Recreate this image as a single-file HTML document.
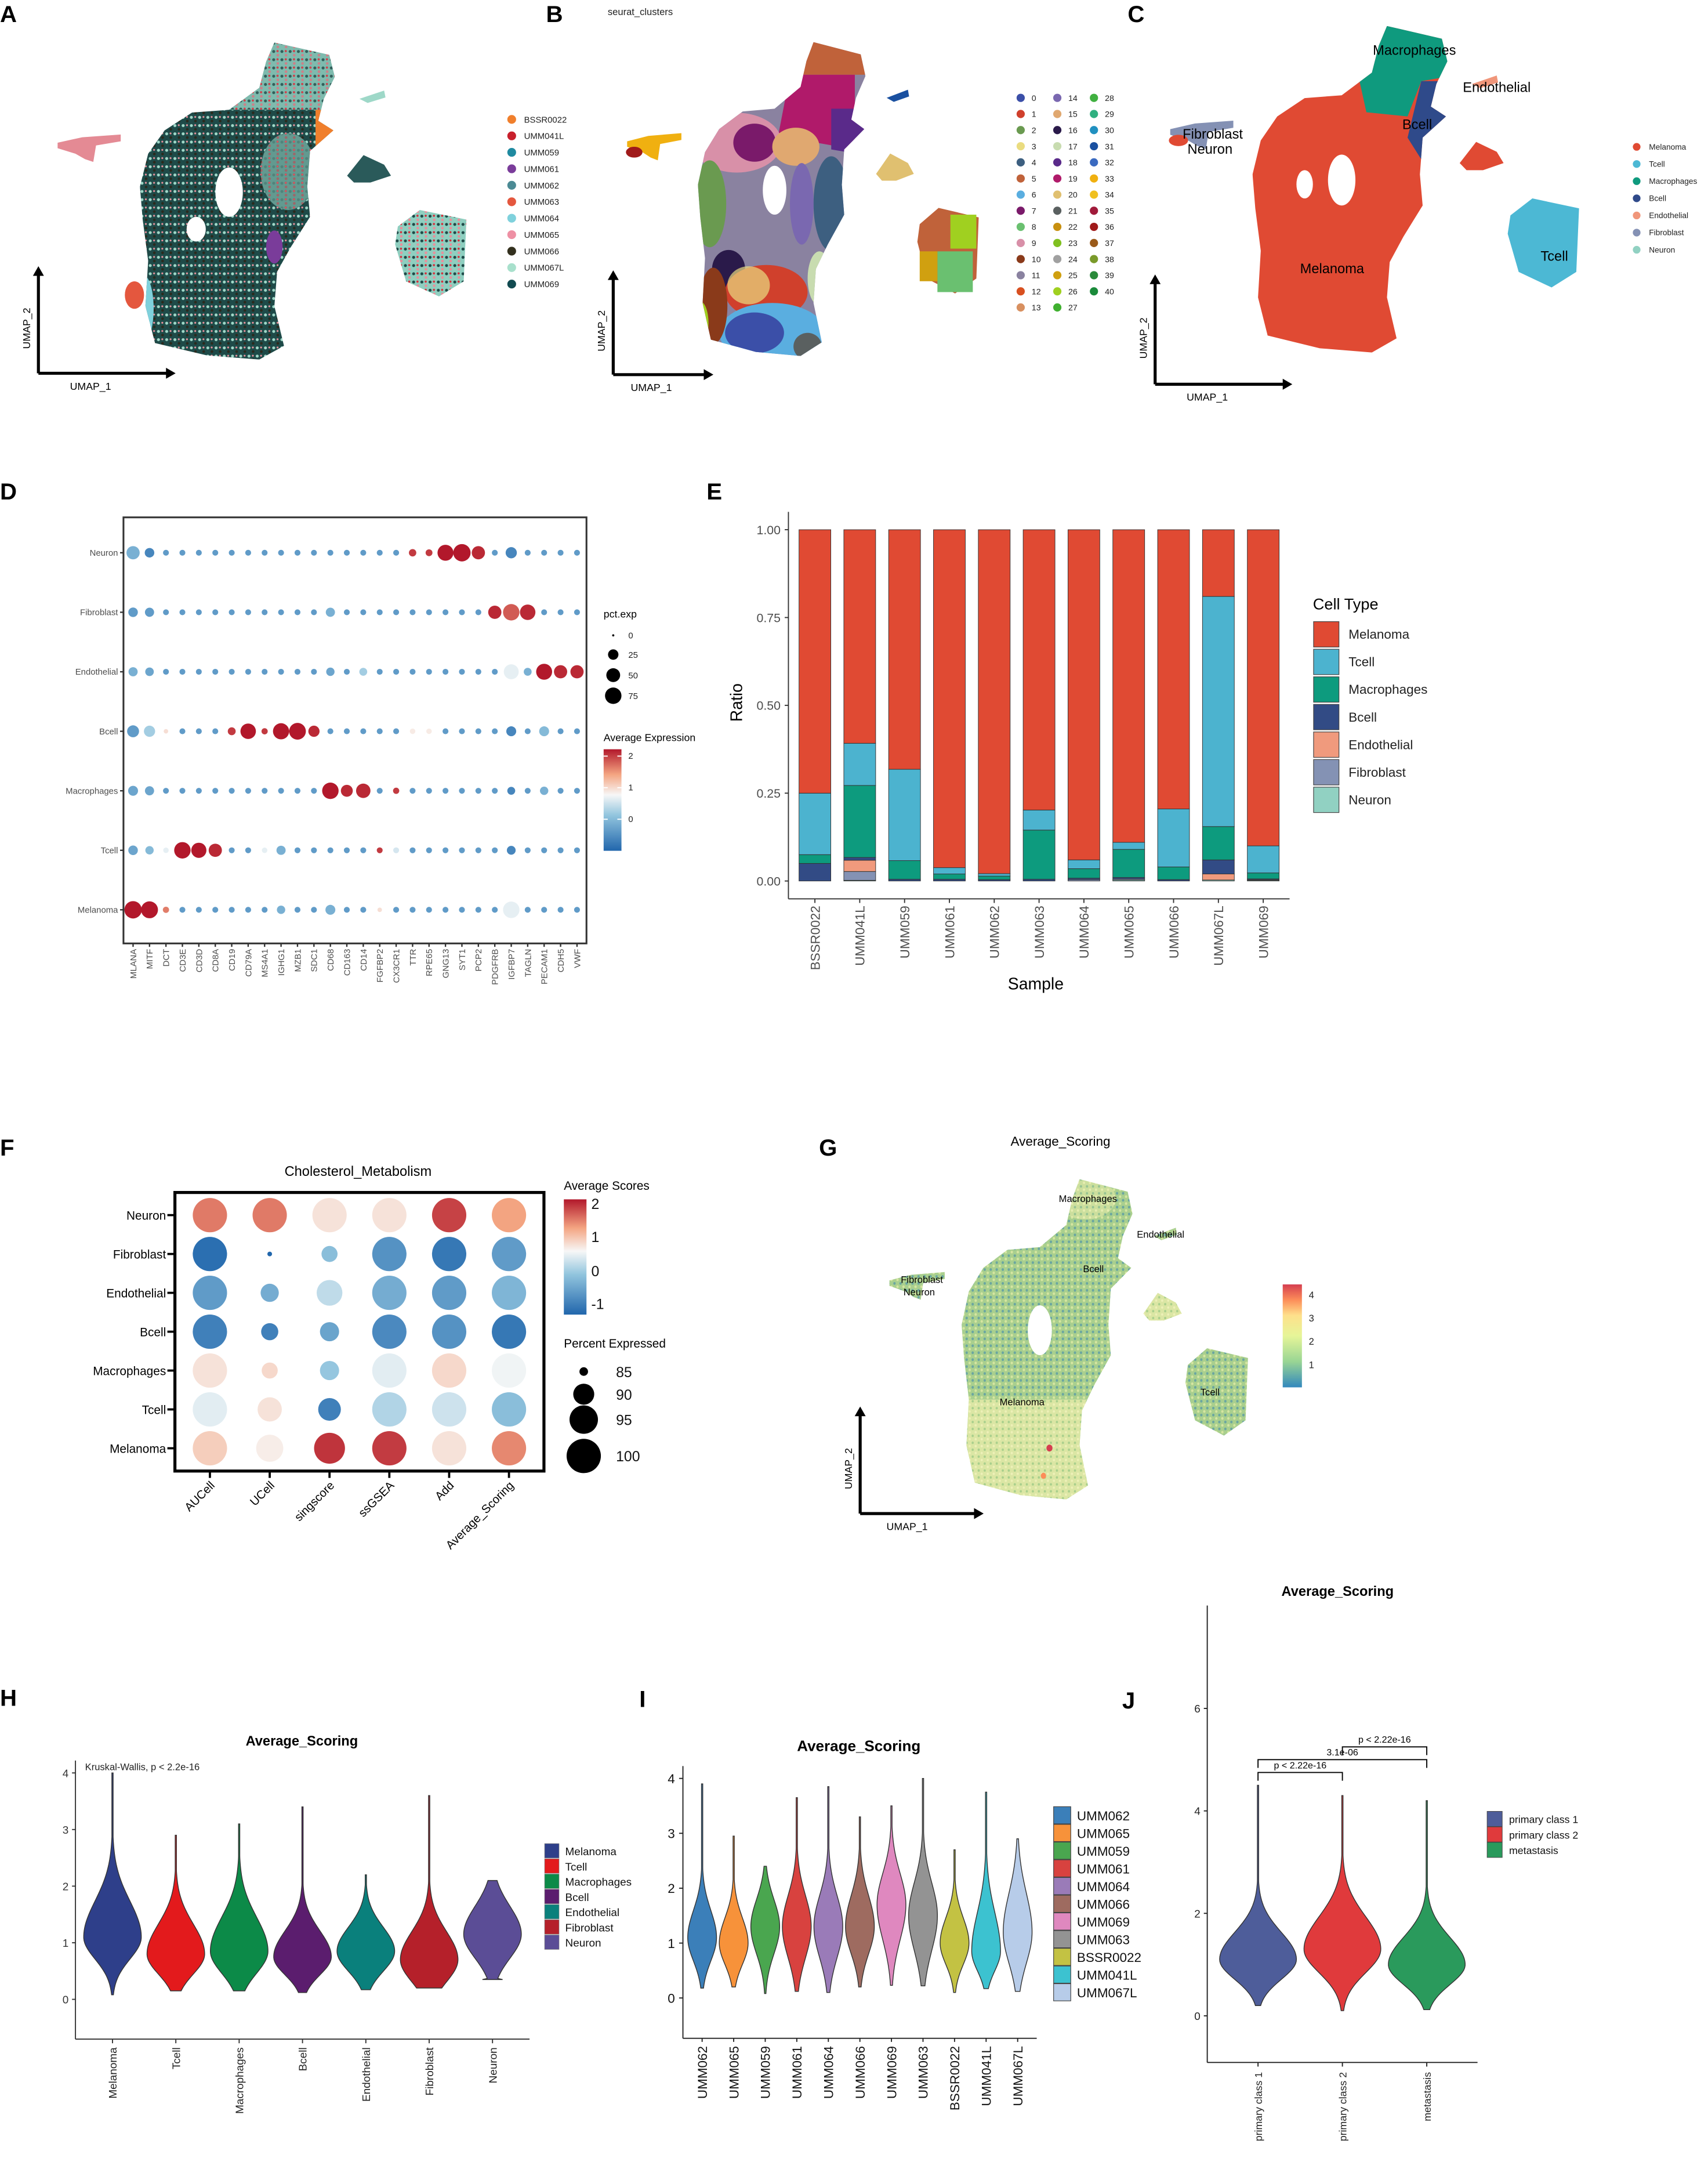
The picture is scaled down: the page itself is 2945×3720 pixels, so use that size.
<!DOCTYPE html>
<html><head><meta charset="utf-8"><title>Figure</title>
<style>
html,body{margin:0;padding:0;background:#fff;}
svg{display:block;font-family:"Liberation Sans",Arial,sans-serif;}
</style></head>
<body>
<svg id="fig" width="2945" height="3720" viewBox="0 0 1245 1572.6" xmlns="http://www.w3.org/2000/svg">
<defs>
  <path id="umapBody" d="M200,31 L240,40 L244,56 L236,72 L232,88 L243,95 L226,110 L224,136 L226,158 L212,180 L202,198 L200,223 L207,252 L189,262 L151,259 L113,250 L106,223 L108,190 L104,160 L102,136 L108,112 L120,95 L140,82 L167,80 L189,64 L194,45 Z"/>
  <path id="umapLeft" d="M42,104 L60,100 L88,98 L88,103 L70,106 L68,118 L62,116 L55,112 L42,108 Z"/>
  <path id="umapRight" d="M290,165 L306,153 L340,160 L338,205 L320,216 L296,205 L288,178 Z"/>
  <path id="umapMid" d="M253,128 L265,113 L280,120 L285,128 L270,133 L258,133 Z"/>
  <path id="umapTiny" d="M262,72 L280,66 L281,71 L268,75 Z"/>
  <clipPath id="clipBody"><use href="#umapBody"/></clipPath>
  <pattern id="patA" width="6" height="6" patternUnits="userSpaceOnUse">
    <rect width="6" height="6" fill="#1e4a48"/><circle cx="1.5" cy="1.5" r="1.1" fill="#9ed8c8"/><circle cx="4.5" cy="4.2" r="1" fill="#2b2a1e"/><circle cx="4.3" cy="1.2" r="0.7" fill="#e8909c"/>
  </pattern>
  <pattern id="patATop" width="6" height="6" patternUnits="userSpaceOnUse">
    <rect width="6" height="6" fill="#8fcfc0"/><circle cx="1.5" cy="1.5" r="1.1" fill="#1e4a48"/><circle cx="4.5" cy="4.2" r="1" fill="#e8909c"/><circle cx="4.3" cy="1.2" r="0.8" fill="#d6303c"/>
  </pattern>
  <pattern id="patG" width="5" height="5" patternUnits="userSpaceOnUse">
    <rect width="5" height="5" fill="#a9cf8e"/><circle cx="1.2" cy="1.2" r="1" fill="#6aa6a0"/><circle cx="3.7" cy="3.6" r="1" fill="#d6e6a0"/>
  </pattern>
  <pattern id="patGlow" width="5" height="5" patternUnits="userSpaceOnUse">
    <rect width="5" height="5" fill="#dbe6a4"/><circle cx="1.2" cy="1.2" r="0.9" fill="#a8cf8c"/><circle cx="3.7" cy="3.6" r="0.9" fill="#eef0b8"/>
  </pattern>
  <linearGradient id="gradD" x1="0" y1="1" x2="0" y2="0">
    <stop offset="0" stop-color="#2166ac"/><stop offset="0.35" stop-color="#92c5de"/><stop offset="0.55" stop-color="#f7f7f7"/><stop offset="0.75" stop-color="#f4a582"/><stop offset="1" stop-color="#b2182b"/>
  </linearGradient>
  <linearGradient id="gradG" x1="0" y1="1" x2="0" y2="0">
    <stop offset="0" stop-color="#3288bd"/><stop offset="0.25" stop-color="#99d594"/><stop offset="0.5" stop-color="#e6f598"/><stop offset="0.7" stop-color="#fee08b"/><stop offset="0.85" stop-color="#fc8d59"/><stop offset="1" stop-color="#d53e4f"/>
  </linearGradient>
</defs>
</svg>
<script>
const NS='http://www.w3.org/2000/svg';
const svg=document.getElementById('fig');
function mk(tag,a,p){const e=document.createElementNS(NS,tag);for(const k in a)e.setAttribute(k,a[k]);(p||svg).appendChild(e);return e;}
function tx(x,y,s,size,extra,p){const e=mk('text',Object.assign({x:x,y:y,'font-size':size,fill:'#000'},extra||{}),p);e.textContent=s;return e;}

/* ---------- DATA ---------- */
const sampleNamesA=['BSSR0022','UMM041L','UMM059','UMM061','UMM062','UMM063','UMM064','UMM065','UMM066','UMM067L','UMM069'];
const sampleColorsA=['#f07f2c','#c8202c','#1f8aa0','#7a3c9a','#4b8a94','#e4573e','#7fd1dc','#ee90a4','#33301e','#a8e0cc','#114a50'];
const clusterColors=['#3b4fa8','#d0402c','#6a9a50','#eadc80','#3d5f80','#c0623a','#5aaee0','#7a1a6a','#6ac070','#d890a8','#8a3a1a','#8a82a0','#d85020','#d89060','#7a68b0','#e0a870','#2a1a4a','#c8dcb0','#5a2a8a','#b01a6a','#e0c070','#5a6060','#c89010','#80c020','#a0a0a0','#d0a010','#a0d020','#40b030','#40b040','#30b080','#2090c0','#1a50a0','#3a6ac0','#f0b010','#f0c020','#a01a3a','#a01a1a','#9a5a1a','#7a9a2a','#2a8a3a','#1a8a3a'];
const cellTypes=['Melanoma','Tcell','Macrophages','Bcell','Endothelial','Fibroblast','Neuron'];
const cellColorsC=['#e04a33','#4cb8d4','#0f9a7e','#2f4a8a','#f0967a','#8491b4','#91d1c2'];

const genes=['MLANA','MITF','DCT','CD3E','CD3D','CD8A','CD19','CD79A','MS4A1','IGHG1','MZB1','SDC1','CD68','CD163','CD14','FGFBP2','CX3CR1','TTR','RPE65','GNG13','SYT1','PCP2','PDGFRB','IGFBP7','TAGLN','PECAM1','CDH5','VWF'];
const dotRows=['Neuron','Fibroblast','Endothelial','Bcell','Macrophages','Tcell','Melanoma'];
const dotHighlights=[
 ['Neuron',0,-0.1,45],['Neuron',1,-0.5,20],['Neuron',17,2,10],['Neuron',18,2,8],['Neuron',19,2.2,70],['Neuron',20,2.2,85],['Neuron',21,2.1,45],['Neuron',23,-0.5,30],
 ['Fibroblast',0,-0.3,20],['Fibroblast',1,-0.3,18],['Fibroblast',12,-0.1,18],['Fibroblast',22,2.1,45],['Fibroblast',23,1.8,75],['Fibroblast',24,2.1,65],
 ['Endothelial',0,-0.1,18],['Endothelial',1,-0.2,15],['Endothelial',12,-0.2,14],['Endothelial',14,0.2,12],['Endothelial',23,0.6,60],['Endothelial',24,-0.1,12],['Endothelial',25,2.2,70],['Endothelial',26,2.1,45],['Endothelial',27,2.1,45],
 ['Bcell',0,-0.3,35],['Bcell',1,0.2,30],['Bcell',2,0.9,2],['Bcell',6,2,12],['Bcell',7,2.2,65],['Bcell',8,2,6],['Bcell',9,2.2,72],['Bcell',10,2.2,78],['Bcell',11,2.1,30],['Bcell',17,0.8,4],['Bcell',18,0.8,4],['Bcell',23,-0.5,22],['Bcell',25,0,22],
 ['Macrophages',0,-0.2,22],['Macrophages',1,-0.2,18],['Macrophages',12,2.2,75],['Macrophages',13,2.1,35],['Macrophages',14,2.1,55],['Macrophages',16,2,6],['Macrophages',23,-0.5,12],['Macrophages',25,-0.1,14],
 ['Tcell',0,-0.2,20],['Tcell',1,0,14],['Tcell',2,0.6,4],['Tcell',3,2.2,75],['Tcell',4,2.2,62],['Tcell',5,2.1,45],['Tcell',8,0.6,4],['Tcell',9,-0.1,18],['Tcell',15,2,5],['Tcell',16,0.5,5],['Tcell',23,-0.5,16],
 ['Melanoma',0,2.2,85],['Melanoma',1,2.2,80],['Melanoma',2,1.6,6],['Melanoma',9,-0.1,14],['Melanoma',12,-0.1,22],['Melanoma',15,0.9,2],['Melanoma',23,0.6,75]
];

const barSamples=['BSSR0022','UMM041L','UMM059','UMM061','UMM062','UMM063','UMM064','UMM065','UMM066','UMM067L','UMM069'];
const stackOrder=['Neuron','Fibroblast','Endothelial','Bcell','Macrophages','Tcell'];
const propNeuron=[0,0.002,0,0,0,0,0,0.003,0,0.003,0.002];
const propFibroblast=[0,0.025,0,0,0,0,0.004,0.003,0,0,0.002];
const propEndothelial=[0,0.032,0,0,0,0,0,0,0,0.017,0];
const propBcell=[0.05,0.008,0.005,0.005,0.004,0.005,0.004,0.004,0.004,0.04,0.002];
const propMacrophages=[0.025,0.205,0.053,0.015,0.01,0.14,0.027,0.08,0.036,0.095,0.017];
const propTcell=[0.175,0.12,0.26,0.018,0.007,0.057,0.025,0.02,0.165,0.655,0.077];
const eTicks=[0,0.25,0.5,0.75,1.0];
const eTickLabels=['0.00','0.25','0.50','0.75','1.00'];

const fRows=['Neuron','Fibroblast','Endothelial','Bcell','Macrophages','Tcell','Melanoma'];
const fMethods=['AUCell','UCell','singscore','ssGSEA','Add','Average_Scoring'];
const fScoreNeuron=[1.6,1.6,0.7,0.7,2.0,1.3];
const fScoreFibroblast=[-1.2,-1.3,-0.3,-0.8,-1.1,-0.7];
const fScoreEndothelial=[-0.7,-0.5,0.1,-0.5,-0.7,-0.4];
const fScoreBcell=[-1.0,-1.0,-0.6,-0.9,-0.8,-1.1];
const fScoreMacrophages=[0.7,0.8,-0.2,0.35,0.8,0.45];
const fScoreTcell=[0.35,0.7,-1.0,0.0,0.2,-0.3];
const fScoreMelanoma=[0.9,0.6,2.1,2.05,0.7,1.5];
const fPctNeuron=[100,100,100,100,100,100];
const fPctFibroblast=[100,84.3,87.5,100,100,100];
const fPctEndothelial=[100,88.5,93,100,100,100];
const fPctBcell=[100,88,89,100,100,100];
const fPctMacrophages=[100,87.5,89,100,100,100];
const fPctTcell=[100,92,91,100,100,100];
const fPctMelanoma=[100,94,97,100,100,100];

const hGroups=['Melanoma','Tcell','Macrophages','Bcell','Endothelial','Fibroblast','Neuron'];
const hColors=['#2e3f8a','#e31a1c','#0c8a48','#5b1d6e','#0a807c','#b5202a','#5b4d96'];
const hMin=[0.08,0.15,0.15,0.12,0.17,0.2,0.35];
const hMax=[4.0,2.9,3.1,3.4,2.2,3.6,2.1];
const hMode=[1.1,0.8,0.85,0.75,0.85,0.7,1.15];
const hSpreadUp=[0.9,0.75,0.85,0.65,0.6,0.7,0.7];
const hSpreadDown=[0.55,0.5,0.55,0.45,0.5,0.55,0.6];

const iGroups=['UMM062','UMM065','UMM059','UMM061','UMM064','UMM066','UMM069','UMM063','BSSR0022','UMM041L','UMM067L'];
const iColors=['#3b7fb9','#f7923a','#4aa64f','#d8423f','#9a7bb8','#9e6b60','#df88bf','#939393','#c3c243','#3cc2d0','#b7cce9'];
const iMin=[0.18,0.2,0.08,0.12,0.1,0.2,0.23,0.22,0.1,0.17,0.12];
const iMax=[3.9,2.95,2.4,3.65,3.85,3.3,3.5,4.0,2.7,3.75,2.9];
const iMode=[1.1,1.0,1.3,1.3,1.3,1.3,1.7,1.5,1.0,0.85,1.2];
const iSpreadUp=[0.7,0.65,0.7,0.8,0.8,0.8,0.8,0.85,0.65,1.0,1.0];
const iSpreadDown=[0.6,0.55,0.7,0.8,0.8,0.7,0.9,0.9,0.55,0.5,0.8];

const jGroups=['primary class 1','primary class 2','metastasis'];
const jColors=['#4e5d9a','#e03a3c','#2a9a5c'];
const jMin=[0.2,0.1,0.12];
const jMax=[4.5,4.3,4.2];
const jMode=[1.1,1.3,1.0];
const jSpreadUp=[0.75,0.9,0.75];
const jSpreadDown=[0.55,0.65,0.55];
const jComparisons=[[0,1,'p < 2.22e-16',4.75],[0,2,'3.1e-06',5.0],[1,2,'p < 2.22e-16',5.25]];

/* ---------- helpers ---------- */
function panelLetter(x,y,s){const t=tx(x,y,s,17,{'font-weight':'bold'});

}
function rdbu(v,lo,hi){
  const stops=[[0,[33,102,172]],[0.3,[146,197,222]],[0.5,[247,247,247]],[0.72,[244,165,130]],[1,[178,24,43]]];
  let t=(v-lo)/(hi-lo);t=Math.max(0,Math.min(1,t));
  for(let i=1;i<stops.length;i++){if(t<=stops[i][0]){const a=stops[i-1],b=stops[i];const f=(t-a[0])/(b[0]-a[0]);
    const c=a[1].map((x,k)=>Math.round(x+(b[1][k]-x)*f));return 'rgb('+c.join(',')+')';}}
  return 'rgb(178,24,43)';
}
function umapArrows(ox,oy,len,hlen,p){
  mk('line',{x1:ox,y1:oy,x2:ox,y2:oy-len+6,stroke:'#000','stroke-width':2.2},p);
  mk('polygon',{points:(ox-4)+','+(oy-len+7)+' '+(ox+4)+','+(oy-len+7)+' '+ox+','+(oy-len)},p);
  mk('line',{x1:ox,y1:oy,x2:ox+hlen-6,y2:oy,stroke:'#000','stroke-width':2.2},p);
  mk('polygon',{points:(ox+hlen-7)+','+(oy-4)+' '+(ox+hlen-7)+','+(oy+4)+' '+(ox+hlen)+','+oy},p);
  const a=tx(ox+hlen*0.38,oy+12,'UMAP_1',7.5,{'text-anchor':'middle'},p);
  
  const b=tx(ox-6,oy-len*0.42,'UMAP_2',7.5,{'text-anchor':'middle',transform:'rotate(-90 '+(ox-6)+' '+(oy-len*0.42)+')'},p);
  
}
function violin(cx,yS,vmin,vmax,mode,su,sd,w,color,p,flatBottom){
  const pts=[],n=90;
  for(let i=0;i<=n;i++){const v=vmin+(vmax-vmin)*i/n;
    let h=v<mode? w*Math.exp(-Math.pow((mode-v)/sd,2)) : w*Math.exp(-Math.pow((v-mode)/su,2));
    if(flatBottom&&i===0)h=Math.max(h,w*0.35);
    h=Math.max(h,0.45);pts.push([v,h]);}
  let d='M'+(cx-pts[0][1]).toFixed(2)+','+yS(pts[0][0]).toFixed(2);
  pts.forEach(q=>{d+=' L'+(cx-q[1]).toFixed(2)+','+yS(q[0]).toFixed(2);});
  for(let i=pts.length-1;i>=0;i--){d+=' L'+(cx+pts[i][1]).toFixed(2)+','+yS(pts[i][0]).toFixed(2);}
  d+=' Z';
  return mk('path',{d:d,fill:color,stroke:'#333','stroke-width':0.6},p);
}

/* ---------- PANEL A ---------- */
panelLetter(0,16,'A');
const gA=mk('g',{});

const bodyA=mk('g',{'clip-path':'url(#clipBody)'},gA);
mk('rect',{x:90,y:20,width:170,height:250,fill:'url(#patA)'},bodyA);
mk('path',{d:'M95,80 L250,80 L250,30 L190,30 Z',fill:'url(#patATop)',opacity:0.85},bodyA);
mk('ellipse',{cx:210,cy:125,rx:20,ry:28,fill:'url(#patATop)',opacity:0.6},bodyA);
mk('rect',{x:230,y:80,width:20,height:40,fill:'#f07f2c'},bodyA);
mk('ellipse',{cx:104,cy:225,rx:8,ry:25,fill:'#7fd1dc'},bodyA);
mk('ellipse',{cx:200,cy:180,rx:6,ry:12,fill:'#7a3c9a'},bodyA);
mk('ellipse',{cx:167,cy:140,rx:10,ry:18,fill:'#fff'},gA);
mk('ellipse',{cx:143,cy:167,rx:7,ry:9,fill:'#fff'},gA);
mk('use',{href:'#umapLeft',fill:'#e48a94'},gA);
mk('use',{href:'#umapRight',fill:'url(#patATop)'},gA);
mk('use',{href:'#umapMid',fill:'#2a5a5a'},gA);
mk('use',{href:'#umapTiny',fill:'#9ed8c8'},gA);
mk('ellipse',{cx:98,cy:215,rx:7,ry:10,fill:'#e4573e'},gA);
umapArrows(28,272,78,100,gA);
sampleNamesA.forEach((s,i)=>{const y=87+12*i;
  const c=mk('circle',{cx:373,cy:y,r:3.2,fill:sampleColorsA[i]});
  
  const t=tx(382,y+2.3,s,6.3,{fill:'#222'});
  });

/* ---------- PANEL B ---------- */
panelLetter(398,16,'B');
const tB=tx(443,11,'seurat_clusters',7,{fill:'#222'});

const gB=mk('g',{});

const gBt=mk('g',{transform:'translate(421,0) scale(0.86,0.99)'},gB);
const bodyB=mk('g',{'clip-path':'url(#clipBody)'},gBt);
mk('rect',{x:90,y:20,width:170,height:250,fill:'#8a82a0'},bodyB);
mk('rect',{x:185,y:25,width:70,height:30,fill:'#c0623a'},bodyB);
mk('path',{d:'M180,55 L235,55 L235,110 L170,100 Z',fill:'#b01a6a'},bodyB);
mk('path',{d:'M215,80 L250,80 L250,115 L215,110 Z',fill:'#5a2a8a'},bodyB);
mk('ellipse',{cx:135,cy:105,rx:38,ry:22,fill:'#d890a8'},bodyB);
mk('ellipse',{cx:150,cy:105,rx:18,ry:14,fill:'#7a1a6a'},bodyB);
mk('ellipse',{cx:185,cy:108,rx:20,ry:14,fill:'#e0a870'},bodyB);
mk('ellipse',{cx:112,cy:150,rx:14,ry:32,fill:'#6a9a50'},bodyB);
mk('ellipse',{cx:215,cy:150,rx:15,ry:35,fill:'#3d5f80'},bodyB);
mk('ellipse',{cx:190,cy:150,rx:10,ry:30,fill:'#7a68b0'},bodyB);
mk('ellipse',{cx:128,cy:198,rx:14,ry:14,fill:'#2a1a4a'},bodyB);
mk('ellipse',{cx:160,cy:215,rx:35,ry:20,fill:'#d0402c'},bodyB);
mk('ellipse',{cx:145,cy:210,rx:18,ry:14,fill:'#eadc80',opacity:0.7},bodyB);
mk('ellipse',{cx:165,cy:245,rx:45,ry:22,fill:'#5aaee0'},bodyB);
mk('ellipse',{cx:150,cy:245,rx:25,ry:15,fill:'#3b4fa8'},bodyB);
mk('ellipse',{cx:115,cy:225,rx:12,ry:28,fill:'#8a3a1a'},bodyB);
mk('ellipse',{cx:104,cy:238,rx:7,ry:16,fill:'#a0d020'},bodyB);
mk('ellipse',{cx:195,cy:255,rx:12,ry:10,fill:'#5a6060'},bodyB);
mk('ellipse',{cx:205,cy:205,rx:10,ry:20,fill:'#c8dcb0'},bodyB);
mk('ellipse',{cx:167,cy:140,rx:10,ry:18,fill:'#fff'},gBt);
mk('use',{href:'#umapLeft',fill:'#f0b010'},gBt);
mk('ellipse',{cx:48,cy:112,rx:7,ry:4,fill:'#a01a1a'},gBt);
mk('use',{href:'#umapRight',fill:'#c0623a'},gBt);
mk('rect',{x:316,y:158,width:22,height:25,fill:'#a0d020'},gBt);
mk('rect',{x:305,y:185,width:30,height:30,fill:'#6ac070'},gBt);
mk('rect',{x:290,y:185,width:15,height:22,fill:'#d0a010'},gBt);
mk('use',{href:'#umapMid',fill:'#e0c070'},gBt);
mk('use',{href:'#umapTiny',fill:'#1a50a0'},gBt);
umapArrows(447,273,76,73,gB);
clusterColors.forEach((col,i)=>{const colI=Math.floor(i/14),row=i%14;
  const x=744+colI*26.7,y=71.3+row*11.75;
  const c=mk('circle',{cx:x,cy:y,r:3,fill:col});
  
  const t=tx(x+8,y+2.2,String(i),6,{fill:'#222'});
  });

/* ---------- PANEL C ---------- */
panelLetter(822,16,'C');
const gC=mk('g',{});

const gCt=mk('g',{transform:'translate(811,-13) scale(1,1.03)'},gC);
const bodyC=mk('g',{'clip-path':'url(#clipBody)'},gCt);
mk('rect',{x:90,y:20,width:170,height:250,fill:'#e04a33'},bodyC);
mk('path',{d:'M185,25 L255,25 L255,65 L225,70 L215,95 L185,92 L180,70 Z',fill:'#0f9a7e'},bodyC);
mk('path',{d:'M225,70 L255,70 L255,110 L228,130 L215,110 Z',fill:'#2f4a8a'},bodyC);
mk('ellipse',{cx:167,cy:140,rx:10,ry:18,fill:'#fff'},gCt);
mk('ellipse',{cx:140,cy:143,rx:6,ry:10,fill:'#fff'},gCt);
mk('use',{href:'#umapLeft',fill:'#8491b4'},gCt);
mk('ellipse',{cx:48,cy:112,rx:7,ry:4,fill:'#e04a33'},gCt);
mk('use',{href:'#umapRight',fill:'#4cb8d4'},gCt);
mk('use',{href:'#umapMid',fill:'#e04a33'},gCt);
mk('use',{href:'#umapTiny',fill:'#f0967a'},gCt);
umapArrows(842,280,80,100,gC);
[['Macrophages',1031,40],['Endothelial',1091,67],['Bcell',1033,94],['Fibroblast',884,101],['Neuron',882,112],['Melanoma',971,199],['Tcell',1133,190]].forEach(l=>{
  const t=tx(l[1],l[2],l[0],10,{'text-anchor':'middle'});
  });
cellTypes.forEach((s,i)=>{const y=107+12.5*i;
  const c=mk('circle',{cx:1193,cy:y,r:2.8,fill:cellColorsC[i]});
  
  const t=tx(1202,y+2,s,5.8,{fill:'#222'});
  });

/* ---------- PANEL D ---------- */
panelLetter(0,364,'D');
const dL=90,dR=427.5,dT=377,dB=687.5;
const dx=i=>97+i*(420.6-97)/27;
const dy=r=>402.8+dotRows.indexOf(r)*(663-402.8)/6;
const dr=p=>0.8+Math.sqrt(p/100)*6;
const dFrame=mk('rect',{x:dL,y:dT,width:dR-dL,height:dB-dT,fill:'none',stroke:'#333','stroke-width':1.3});

dotRows.forEach(r=>{
  const t=tx(dL-4,dy(r)+2.2,r,6.3,{'text-anchor':'end',fill:'#4d4d4d'});
  
  mk('line',{x1:dL-2.5,x2:dL,y1:dy(r),y2:dy(r),stroke:'#333','stroke-width':1});
  genes.forEach((g,gi)=>{
    const h=dotHighlights.find(q=>q[0]===r&&q[1]===gi);
    const ex=h?h[2]:-0.3,pc=h?h[3]:5;
    const c=mk('circle',{cx:dx(gi),cy:dy(r),r:dr(pc),fill:rdbu(ex,-0.8,2.2)});
    
    
  });
});
genes.forEach((g,gi)=>{
  mk('line',{x1:dx(gi),x2:dx(gi),y1:dB,y2:dB+2.5,stroke:'#333','stroke-width':1});
  const x=dx(gi)+2.3,y=dB+4;
  const t=tx(x,y,g,6.3,{'text-anchor':'end',fill:'#4d4d4d',transform:'rotate(-90 '+x+' '+y+')'});
  
});
const dLeg1=tx(440,450,'pct.exp',7.5);
[[0,463],[25,477],[50,492],[75,507]].forEach(q=>{
  const c=mk('circle',{cx:447,cy:q[1],r:dr(q[0]),fill:'#000'});
  
  const t=tx(458,q[1]+2.3,String(q[0]),6.3,{fill:'#222'});
  });
const dLeg2=tx(440,540,'Average Expression',7.5);
const dBar=mk('rect',{x:440,y:546,width:13,height:74,fill:'url(#gradD)'});

[['2',553],['1',576],['0',599]].forEach(q=>{mk('line',{x1:440,x2:443,y1:q[1]-2,y2:q[1]-2,stroke:'#fff','stroke-width':0.8});mk('line',{x1:450,x2:453,y1:q[1]-2,y2:q[1]-2,stroke:'#fff','stroke-width':0.8});
  const t=tx(458,q[1],q[0],6.3,{fill:'#222'});});

/* ---------- PANEL E ---------- */
panelLetter(515,364,'E');
const eY=v=>642-v*(642-386);
const eX=i=>594+i*(920.8-594)/10;
const eFills={Melanoma:'#e04a33',Tcell:'#4cb3cf',Macrophages:'#0d9b7e',Bcell:'#324b85',Endothelial:'#f09a7d',Fibroblast:'#8492b4',Neuron:'#91d1c2'};
mk('line',{x1:574.7,x2:574.7,y1:373,y2:655,stroke:'#333','stroke-width':0.8});
mk('line',{x1:574.7,x2:940,y1:655,y2:655,stroke:'#333','stroke-width':0.8});
eTicks.forEach((v,i)=>{mk('line',{x1:572,x2:574.7,y1:eY(v),y2:eY(v),stroke:'#333','stroke-width':0.8});
  const t=tx(569,eY(v)+3.3,eTickLabels[i],9,{'text-anchor':'end',fill:'#4d4d4d'});
  });
const eProps={Neuron:propNeuron,Fibroblast:propFibroblast,Endothelial:propEndothelial,Bcell:propBcell,Macrophages:propMacrophages,Tcell:propTcell};
barSamples.forEach((s,i)=>{
  let cum=0;const x=eX(i)-11.6;
  stackOrder.forEach(ct=>{const v=eProps[ct][i];
    const r=mk('rect',{x:x,y:eY(cum+v),width:23.2,height:Math.max(0,eY(cum)-eY(cum+v)),fill:eFills[ct],stroke:'#333','stroke-width':0.4});
    
    cum+=v;});
  const r=mk('rect',{x:x,y:eY(1),width:23.2,height:eY(cum)-eY(1),fill:eFills.Melanoma,stroke:'#333','stroke-width':0.4});
  
  mk('line',{x1:eX(i),x2:eX(i),y1:655,y2:658,stroke:'#333','stroke-width':0.8});
  const tx0=eX(i)+3.5,ty0=660;
  const t=tx(tx0,ty0,s,9.5,{'text-anchor':'end',fill:'#4d4d4d',transform:'rotate(-90 '+tx0+' '+ty0+')'});
  
});
const eXt=tx(755,721,'Sample',12,{'text-anchor':'middle'});
const eYt=tx(541,512,'Ratio',12,{'text-anchor':'middle',transform:'rotate(-90 541 512)'});
const eLt=tx(957,444,'Cell Type',11.5);
cellTypes.forEach((ct,i)=>{const y=453+20.1*i;
  const r=mk('rect',{x:957.5,y:y,width:18.5,height:18.5,fill:eFills[ct],stroke:'#444','stroke-width':0.5});
  
  const t=tx(983,y+12.5,ct,9.5,{fill:'#222'});
  });

/* ---------- PANEL F ---------- */
panelLetter(0,842,'F');
const fX=i=>153+i*(371-153)/5;
const fY=i=>885.5+i*(1055.4-885.5)/6;
const fR=p=>Math.max(0.6,12.5*Math.sqrt(Math.max(0,(p-84))/16));
const fT=tx(261,857,'Cholesterol_Metabolism',10,{'text-anchor':'middle'});
const fScores=[fScoreNeuron,fScoreFibroblast,fScoreEndothelial,fScoreBcell,fScoreMacrophages,fScoreTcell,fScoreMelanoma];
const fPcts=[fPctNeuron,fPctFibroblast,fPctEndothelial,fPctBcell,fPctMacrophages,fPctTcell,fPctMelanoma];
fRows.forEach((r,ri)=>{
  const t=tx(121,fY(ri)+3.3,r,8.8,{'text-anchor':'end'});
  
  mk('line',{x1:122,x2:127,y1:fY(ri),y2:fY(ri),stroke:'#000','stroke-width':1.6});
  fMethods.forEach((m,mi)=>{
    const c=mk('circle',{cx:fX(mi),cy:fY(ri),r:fR(fPcts[ri][mi]),fill:rdbu(fScores[ri][mi],-1.3,2.3)});
    
  });
});
const fFrame=mk('rect',{x:127.5,y:869,width:269,height:203,fill:'none',stroke:'#000','stroke-width':2.2});

fMethods.forEach((m,mi)=>{
  mk('line',{x1:fX(mi),x2:fX(mi),y1:1072,y2:1077,stroke:'#000','stroke-width':1.6});
  const x=fX(mi)+4,y=1083;
  const t=tx(x,y,m,8.6,{'text-anchor':'end',transform:'rotate(-45 '+x+' '+y+')'});
  
});
const fL1=tx(411,867,'Average Scores',8.8);
const fBar=mk('rect',{x:411,y:874,width:16.5,height:84,fill:'url(#gradD)'});

[['2',881],['1',905],['0',930],['-1',954]].forEach(q=>{
  const t=tx(431,q[1],q[0],10.5,{fill:'#111'});
  });
const fL2=tx(411,982,'Percent Expressed',8.8);
[[85,999.5],[90,1016],[95,1034.5],[100,1061]].forEach(q=>{
  const c=mk('circle',{cx:425.5,cy:q[1],r:fR(q[0]),fill:'#000'});
  
  const t=tx(449,q[1]+4,String(q[0]),10.5,{fill:'#111'});
  });

/* ---------- PANEL G ---------- */
panelLetter(597,842,'G');
const gT=tx(773,835,'Average_Scoring',9.5,{'text-anchor':'middle'});
const gG=mk('g',{});

const gGt=mk('g',{transform:'translate(611.5,828) scale(0.877,1.01)'},gG);
const bodyG=mk('g',{'clip-path':'url(#clipBody)'},gGt);
mk('rect',{x:90,y:20,width:170,height:250,fill:'url(#patG)'},bodyG);
mk('rect',{x:90,y:190,width:170,height:80,fill:'url(#patGlow)'},bodyG);
mk('ellipse',{cx:205,cy:45,rx:25,ry:15,fill:'url(#patGlow)',opacity:0.7},bodyG);
mk('circle',{cx:175,cy:225,r:2.5,fill:'#d53e4f'},bodyG);
mk('circle',{cx:170,cy:245,r:2.2,fill:'#fc8d59'},bodyG);
mk('ellipse',{cx:167,cy:140,rx:10,ry:18,fill:'#fff'},gGt);
mk('use',{href:'#umapLeft',fill:'url(#patG)'},gGt);
mk('use',{href:'#umapRight',fill:'url(#patG)'},gGt);
mk('use',{href:'#umapMid',fill:'url(#patGlow)'},gGt);
mk('use',{href:'#umapTiny',fill:'url(#patG)'},gGt);
umapArrows(627,1103,78,90,gG);
[['Macrophages',793,876],['Endothelial',846,902],['Bcell',797,927],['Fibroblast',672,935],['Neuron',670,944],['Melanoma',745,1024],['Tcell',882,1017]].forEach(l=>{
  const t=tx(l[1],l[2],l[0],7,{'text-anchor':'middle'});
  });
const gBar=mk('rect',{x:935,y:936,width:14,height:75,fill:'url(#gradG)'});

[['4',946],['3',963],['2',980],['1',997]].forEach(q=>{
  const t=tx(954,q[1],q[0],7,{fill:'#222'});});

/* ---------- PANEL H ---------- */
panelLetter(0,1243,'H');
const hYS=v=>1457-v*(1457-1292)/4;
const hX=i=>82+i*(359-82)/6;
const hT=tx(220,1272,'Average_Scoring',10,{'text-anchor':'middle','font-weight':'bold'});
mk('line',{x1:55,x2:55,y1:1283,y2:1486,stroke:'#333','stroke-width':0.8});
mk('line',{x1:55,x2:386,y1:1486,y2:1486,stroke:'#333','stroke-width':0.8});
[0,1,2,3,4].forEach(v=>{mk('line',{x1:52.5,x2:55,y1:hYS(v),y2:hYS(v),stroke:'#333','stroke-width':0.8});
  const t=tx(50,hYS(v)+3,String(v),8,{'text-anchor':'end',fill:'#333'});});
const hK=tx(62,1290,'Kruskal-Wallis, p < 2.2e-16',7,{fill:'#222'});
hGroups.forEach((g,i)=>{
  const v=violin(hX(i),hYS,hMin[i],hMax[i],hMode[i],hSpreadUp[i],hSpreadDown[i],21,hColors[i],svg,i>=5);
  
  mk('line',{x1:hX(i),x2:hX(i),y1:1486,y2:1489,stroke:'#333','stroke-width':0.8});
  const x=hX(i)+3,y=1492;
  const t=tx(x,y,g,8,{'text-anchor':'end',fill:'#222',transform:'rotate(-90 '+x+' '+y+')'});
  
  const ly=1349+i*11.1;
  const r=mk('rect',{x:397,y:ly-5.5,width:10.5,height:10.5,fill:hColors[i],stroke:'#777','stroke-width':0.3});
  
  const lt=tx(412,ly+3,g,8,{fill:'#111'});
});

/* ---------- PANEL I ---------- */
panelLetter(466,1244,'I');
const iYS=v=>1456-v*(1456-1296)/4;
const iX=i=>511.8+i*23;
const iT=tx(626,1276,'Average_Scoring',11,{'text-anchor':'middle','font-weight':'bold'});
mk('line',{x1:497.8,x2:497.8,y1:1287,y2:1485.4,stroke:'#222','stroke-width':0.8});
mk('line',{x1:497.8,x2:755.7,y1:1485.4,y2:1485.4,stroke:'#222','stroke-width':0.8});
[0,1,2,3,4].forEach(v=>{mk('line',{x1:495,x2:497.8,y1:iYS(v),y2:iYS(v),stroke:'#222','stroke-width':0.8});
  const t=tx(492,iYS(v)+3.5,String(v),9.5,{'text-anchor':'end',fill:'#111'});});
iGroups.forEach((g,i)=>{
  const v=violin(iX(i),iYS,iMin[i],iMax[i],iMode[i],iSpreadUp[i],iSpreadDown[i],10.5,iColors[i],svg,false);
  
  mk('line',{x1:iX(i),x2:iX(i),y1:1485.4,y2:1488,stroke:'#222','stroke-width':0.8});
  const x=iX(i)+3.5,y=1491;
  const t=tx(x,y,g,9.5,{'text-anchor':'end',fill:'#111',transform:'rotate(-90 '+x+' '+y+')'});
  
  const ly=1316.6+i*12.9;
  const r=mk('rect',{x:768,y:ly,width:12.5,height:12.5,fill:iColors[i],stroke:'#444','stroke-width':0.5});
  
  const lt=tx(785,ly+10,g,9.5,{fill:'#111'});
});

/* ---------- PANEL J ---------- */
panelLetter(818,1245,'J');
const jYS=v=>1469-v*(1469-1245)/6;
const jX=i=>917+i*(1040-917)/2;
const jT=tx(975,1163,'Average_Scoring',10,{'text-anchor':'middle','font-weight':'bold'});
mk('line',{x1:880,x2:880,y1:1170,y2:1503,stroke:'#222','stroke-width':0.8});
mk('line',{x1:880,x2:1077,y1:1503,y2:1503,stroke:'#222','stroke-width':0.8});
[0,2,4,6].forEach(v=>{mk('line',{x1:877.5,x2:880,y1:jYS(v),y2:jYS(v),stroke:'#222','stroke-width':0.8});
  const t=tx(875,jYS(v)+3,String(v),8,{'text-anchor':'end',fill:'#222'});});
jGroups.forEach((g,i)=>{
  const v=violin(jX(i),jYS,jMin[i],jMax[i],jMode[i],jSpreadUp[i],jSpreadDown[i],28,jColors[i],svg,false);
  
  mk('line',{x1:jX(i),x2:jX(i),y1:1503,y2:1506,stroke:'#222','stroke-width':0.8});
  const x=jX(i)+3,y=1510;
  const t=tx(x,y,g,7.5,{'text-anchor':'end',fill:'#222',transform:'rotate(-90 '+x+' '+y+')'});
  
  const ly=1320+i*11.3;
  const r=mk('rect',{x:1084,y:ly,width:11,height:11,fill:jColors[i],stroke:'#444','stroke-width':0.4});
  
  const lt=tx(1100,ly+8.5,g,7.5,{fill:'#111'});
});
jComparisons.forEach((c,k)=>{
  const y=jYS(c[3]),x1=jX(c[0]),x2=jX(c[1]);
  const b=mk('path',{d:'M'+x1+','+(y+6)+' L'+x1+','+y+' L'+x2+','+y+' L'+x2+','+(y+6),fill:'none',stroke:'#000','stroke-width':0.8});
  
  const t=tx((x1+x2)/2,y-3,c[2],6.8,{'text-anchor':'middle'});
  
});
</script>
</body></html>
